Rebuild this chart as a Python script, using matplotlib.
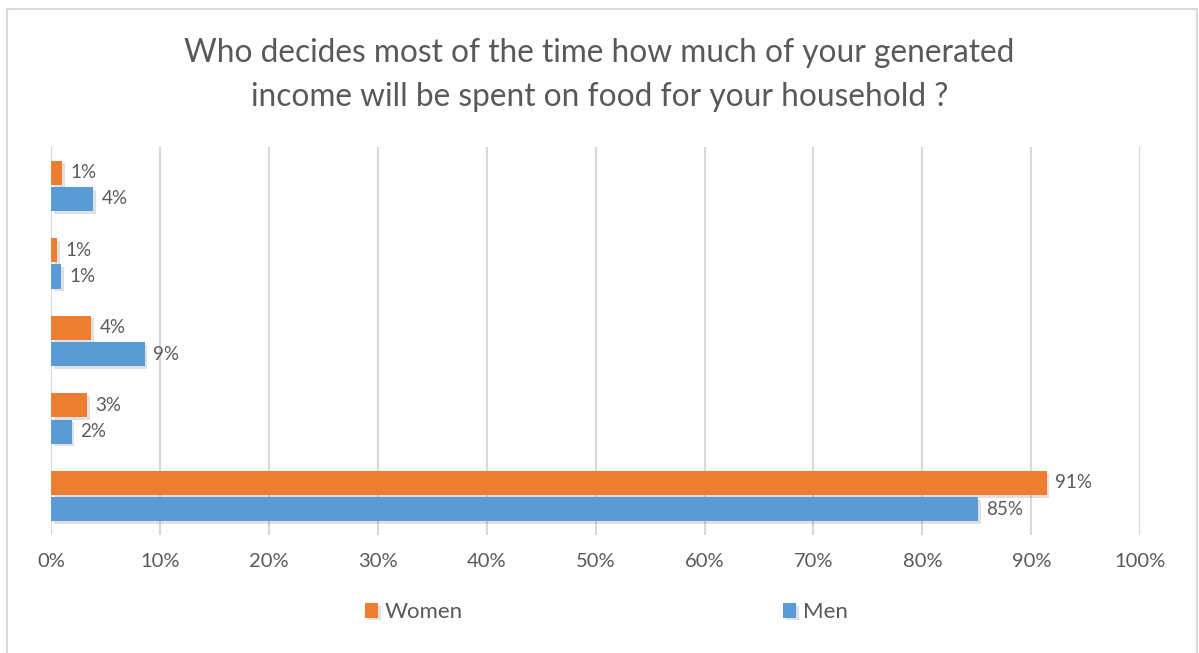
import matplotlib.pyplot as plt
import matplotlib.patheffects as pe
import numpy as np
from matplotlib.patches import Rectangle

plt.rcParams['font.family'] = ['Lato', 'DejaVu Sans']

title = "Who decides most of the time how much of your generated\nincome will be spent on food for your household ?"
# answer groups, bottom to top (the original chart shows no category names)
groups = ["g1", "g2", "g3", "g4", "g5"]
women = [91.4, 3.3, 3.7, 0.6, 1.0]
men = [85.1, 1.9, 8.6, 0.9, 3.9]
xticks = [0, 10, 20, 30, 40, 50, 60, 70, 80, 90, 100]

ORANGE = "#ED7D31"
BLUE = "#5B9BD5"
TXT = "#595959"
GRID = "#d9d9d9"

fig = plt.figure(figsize=(11.99, 6.53), dpi=100)
ax = fig.add_axes([0.0425, 0.181, 0.9085, 0.594])

y = np.arange(len(groups))
h = 0.31
shadow = [pe.SimplePatchShadow(offset=(2, -2), shadow_rgbFace="#000000", alpha=0.12), pe.Normal()]
bw = ax.barh(y + 0.17, women, height=h, color=ORANGE, label="Women", zorder=3, path_effects=shadow)
bm = ax.barh(y - 0.17, men, height=h, color=BLUE, label="Men", zorder=3, path_effects=shadow)

for bars in (bw, bm):
    ax.bar_label(bars, labels=["{:.0f}%".format(b.get_width()) for b in bars],
                 padding=6, fontsize=13.5, color=TXT)

ax.set_xlim(0, 100)
ax.set_ylim(-0.5, len(groups) - 0.5)
ax.set_xticks(xticks)
ax.set_xticklabels(["{}%".format(v) for v in xticks], fontsize=14.5, color=TXT)
ax.set_yticks([])
ax.tick_params(axis="x", length=0, pad=13)
ax.grid(axis="x", color=GRID, linewidth=1.5, zorder=0)
for s in ax.spines.values():
    s.set_visible(False)

fig.text(0.5, 0.885, title, ha="center", va="center", fontsize=22.8, color=TXT, linespacing=1.55)

leg = ax.legend(handles=[bw, bm], loc="center", bbox_to_anchor=(0.51, -0.2), ncol=2,
                frameon=False, fontsize=16, labelcolor=TXT, handlelength=0.6,
                handleheight=0.6, handletextpad=0.3, columnspacing=14.4)

fig.patches.append(Rectangle((7 / 1199, -0.01), 1190 / 1199, 1 - 9 / 653 + 0.01,
                             transform=fig.transFigure, fill=False, edgecolor=GRID, linewidth=1.5))

fig.savefig("out.png", dpi=100)
